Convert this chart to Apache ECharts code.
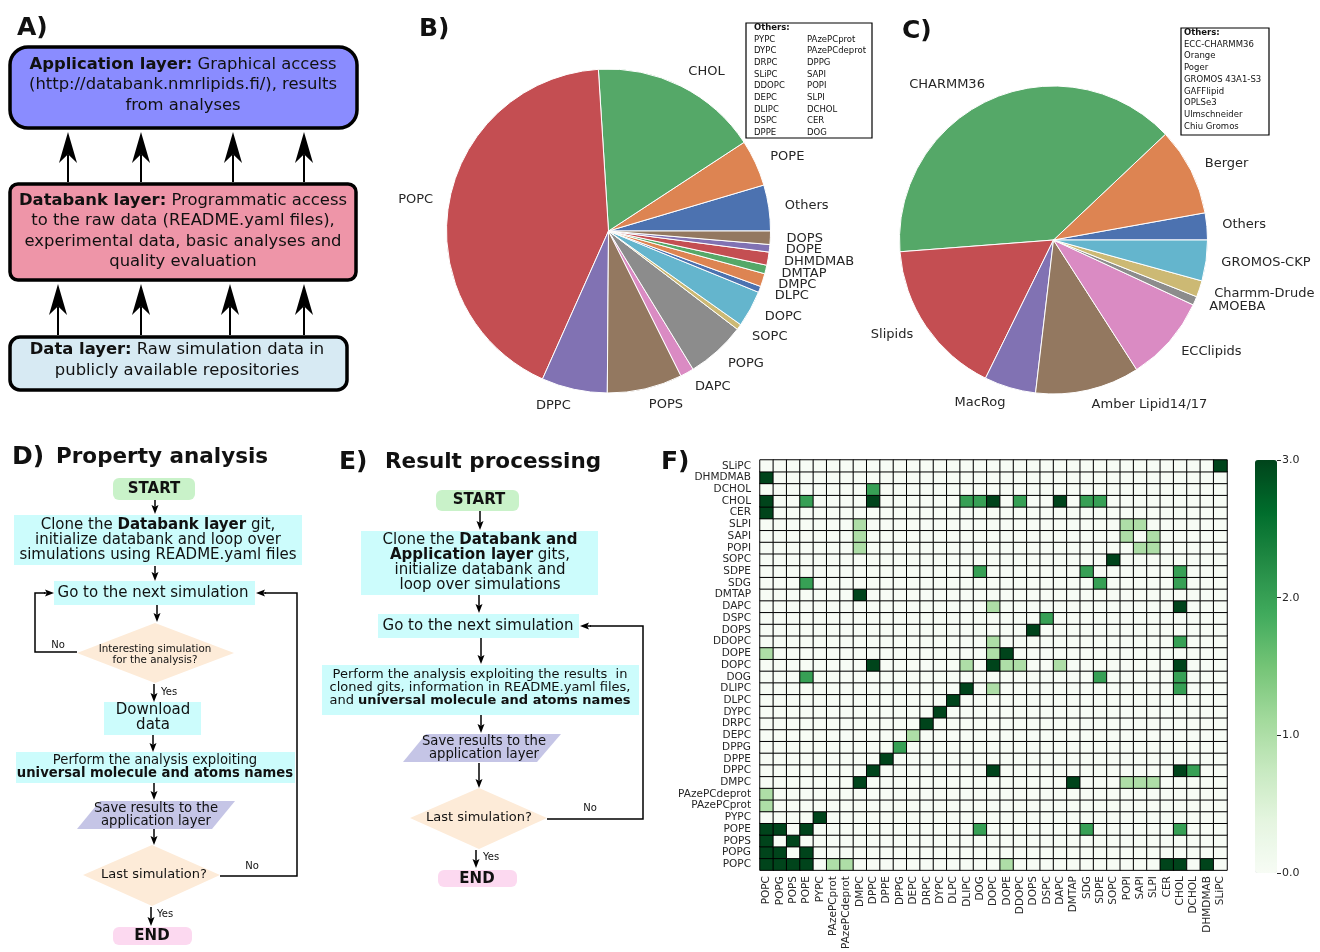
<!DOCTYPE html>
<html lang="en">
<head>
<meta charset="utf-8">
<title>NMRlipids databank overview</title>
<script src="https://cdn.jsdelivr.net/npm/echarts@6/dist/echarts.min.js"></script>
<style>
  html, body { margin: 0; padding: 0; background: #fff; }
  #main { width: 1320px; height: 952px; }
</style>
</head>
<body>
<div id="main"></div>
<script>
// ---- B) lipids in the simulations (share of all, %) ----
var lipidNames = ['Others', 'POPE', 'CHOL', 'POPC', 'DPPC', 'POPS', 'DAPC', 'POPG', 'SOPC',
                  'DOPC', 'DLPC', 'DMPC', 'DMTAP', 'DHMDMAB', 'DOPE', 'DOPS'];
var lipidShare = [4.58, 4.64, 16.78, 42.33, 6.56, 7.5, 1.36, 5.89, 0.56,
                  3.64, 0.61, 1.31, 0.86, 1.31, 0.75, 1.33];
var lipidOthersCol1 = ['PYPC', 'DYPC', 'DRPC', 'SLiPC', 'DDOPC', 'DEPC', 'DLIPC', 'DSPC', 'DPPE'];
var lipidOthersCol2 = ['PAzePCprot', 'PAzePCdeprot', 'DPPG', 'SAPI', 'POPI', 'SLPI', 'DCHOL', 'CER', 'DOG'];

// ---- C) force fields (share of all, %) ----
var ffNames = ['Others', 'Berger', 'CHARMM36', 'Slipids', 'MacRog', 'Amber Lipid14/17',
               'ECClipids', 'AMOEBA', 'Charmm-Drude', 'GROMOS-CKP'];
var ffShare = [2.83, 9.22, 39.17, 16.5, 5.42, 10.94, 9.0, 0.92, 1.72, 4.28];
var ffOthers = ['ECC-CHARMM36', 'Orange', 'Poger', 'GROMOS 43A1-S3', 'GAFFlipid', 'OPLSe3',
                'Ulmschneider', 'Chiu Gromos'];

// ---- F) lipid pairs found together (colour scale 0..3) ----
var lipidAxis = ['POPC', 'POPG', 'POPS', 'POPE', 'PYPC', 'PAzePCprot', 'PAzePCdeprot', 'DMPC',
                 'DPPC', 'DPPE', 'DPPG', 'DEPC', 'DRPC', 'DYPC', 'DLPC', 'DLIPC', 'DOG', 'DOPC',
                 'DOPE', 'DDOPC', 'DOPS', 'DSPC', 'DAPC', 'DMTAP', 'SDG', 'SDPE', 'SOPC', 'POPI',
                 'SAPI', 'SLPI', 'CER', 'CHOL', 'DCHOL', 'DHMDMAB', 'SLiPC'];
var pairs = [
  ['POPC', 'POPC', 3], ['POPG', 'POPG', 3], ['POPS', 'POPS', 3], ['POPE', 'POPE', 3],
  ['PYPC', 'PYPC', 3], ['DMPC', 'DMPC', 3], ['DPPC', 'DPPC', 3], ['DPPE', 'DPPE', 3],
  ['DPPG', 'DPPG', 2], ['DEPC', 'DEPC', 1], ['DRPC', 'DRPC', 3], ['DYPC', 'DYPC', 3],
  ['DLPC', 'DLPC', 3], ['DLIPC', 'DLIPC', 3], ['DOPC', 'DOPC', 3], ['DOPE', 'DOPE', 3],
  ['DOPS', 'DOPS', 3], ['DSPC', 'DSPC', 2], ['SOPC', 'SOPC', 3], ['SLiPC', 'SLiPC', 3],
  ['POPC', 'POPG', 3], ['POPC', 'POPS', 3], ['POPC', 'POPE', 3], ['POPC', 'PAzePCprot', 1],
  ['POPC', 'PAzePCdeprot', 1], ['POPC', 'DOPE', 1], ['POPC', 'CER', 3], ['POPC', 'CHOL', 3],
  ['POPC', 'DHMDMAB', 3], ['POPG', 'POPE', 3],
  ['POPE', 'DOG', 2], ['POPE', 'SDG', 2], ['POPE', 'CHOL', 2],
  ['DMPC', 'DMTAP', 3], ['DMPC', 'POPI', 1], ['DMPC', 'SAPI', 1], ['DMPC', 'SLPI', 1],
  ['DPPC', 'DOPC', 3], ['DPPC', 'CHOL', 3], ['DPPC', 'DCHOL', 2],
  ['DLIPC', 'DOPC', 1], ['DLIPC', 'CHOL', 2], ['DOG', 'SDPE', 2], ['DOG', 'CHOL', 2],
  ['DOPC', 'DOPE', 1], ['DOPC', 'DDOPC', 1], ['DOPC', 'DAPC', 1], ['DOPC', 'CHOL', 3],
  ['DDOPC', 'CHOL', 2], ['DAPC', 'CHOL', 3], ['SDG', 'SDPE', 2], ['SDG', 'CHOL', 2],
  ['SDPE', 'CHOL', 2], ['POPI', 'SAPI', 1], ['POPI', 'SLPI', 1], ['SAPI', 'SLPI', 1]
];
var colorbarTicks = [0, 1, 2, 3];

var F = 'DejaVu Sans';
var INK = '#111';
var deep = ['#4c72b0', '#dd8452', '#55a868', '#c44e52', '#8172b3', '#937860', '#da8bc3', '#8c8c8c', '#ccb974', '#64b5cd'];
var greens = ['#f7fcf5', '#e5f5e0', '#c7e9c0', '#a1d99b', '#74c476', '#41ab5d', '#238b45', '#006d2c', '#00441b'];

// full symmetric matrix from the pair list
var idx = {};
lipidAxis.forEach(function (n, i) { idx[n] = i; });
var mat = lipidAxis.map(function () { return lipidAxis.map(function () { return 0; }); });
pairs.forEach(function (p) {
  mat[idx[p[0]]][idx[p[1]]] = p[2];
  mat[idx[p[1]]][idx[p[0]]] = p[2];
});
var heatData = [];
for (var r = 0; r < lipidAxis.length; r++) {
  for (var c = 0; c < lipidAxis.length; c++) heatData.push([c, r, mat[r][c]]);
}

function pieData(names, vals) {
  return names.map(function (n, i) {
    return { name: n, value: vals[i], itemStyle: { color: deep[i % deep.length] } };
  });
}

// ---- drawing helpers for the diagrams ----
function T(x, y, text, size, o) {
  o = o || {};
  var lh = o.lh || Math.round(size * 1.2);
  var col = o.color || INK;
  return {
    type: 'text', x: x, y: y, silent: true, z: 10,
    style: {
      text: text, fontFamily: F, fontSize: size, fontWeight: o.bold ? 'bold' : 'normal', fill: col,
      textAlign: o.align || 'center', align: o.align || 'center',
      textVerticalAlign: 'middle', verticalAlign: 'middle', lineHeight: lh,
      rich: { b: { fontFamily: F, fontSize: size, fontWeight: 'bold', fill: col, lineHeight: lh } }
    }
  };
}
function box(x, y, w, h, fill, o) {
  o = o || {};
  return {
    type: 'rect', silent: true, z: 2,
    shape: { x: x, y: y, width: w, height: h, r: o.r || 0 },
    style: { fill: fill, stroke: o.stroke || null, lineWidth: o.lw || 0 }
  };
}
function poly(points, fill) {
  return { type: 'polygon', silent: true, z: 2, shape: { points: points }, style: { fill: fill } };
}
function arrow(x1, y1, x2, y2, hl, hw, lw, notch) {
  var dx = x2 - x1, dy = y2 - y1, L = Math.sqrt(dx * dx + dy * dy);
  var ux = dx / L, uy = dy / L, px = -uy, py = ux;
  var bx = x2 - ux * hl, by = y2 - uy * hl;
  var nx = x2 - ux * hl * notch, ny = y2 - uy * hl * notch;
  return [
    { type: 'line', silent: true, z: 5, shape: { x1: x1, y1: y1, x2: nx, y2: ny }, style: { stroke: '#000', lineWidth: lw } },
    { type: 'polygon', silent: true, z: 5, shape: { points: [[x2, y2], [bx + px * hw / 2, by + py * hw / 2], [nx, ny], [bx - px * hw / 2, by - py * hw / 2]] }, style: { fill: '#000' } }
  ];
}
function farrow(x1, y1, x2, y2) { return arrow(x1, y1, x2, y2, 9, 7, 1.5, 0.8); }
function pline(points) {
  return { type: 'polyline', silent: true, z: 5, shape: { points: points }, style: { stroke: '#000', lineWidth: 1.5, fill: null } };
}

var G = [];
function add(e) { G = G.concat(e); }

// A) layers
add(T(17, 28, 'A)', 25, { bold: true, align: 'left' }));
add(box(10, 47, 347, 81, '#8a8cff', { r: 18, stroke: '#000', lw: 3.5 }));
add(T(183, 85, '{b|Application layer:} Graphical access\n(http://databank.nmrlipids.fi/), results\nfrom analyses', 16.4, { lh: 20.5 }));
add(box(10, 184, 346, 96, '#ee95a8', { r: 8, stroke: '#000', lw: 3.5 }));
add(T(183, 231, '{b|Databank layer:} Programmatic access\nto the raw data (README.yaml files),\nexperimental data, basic analyses and\nquality evaluation', 16.4, { lh: 20.5 }));
add(box(10, 337, 337, 53, '#d7eaf3', { r: 10, stroke: '#000', lw: 3.5 }));
add(T(177, 360, '{b|Data layer:} Raw simulation data in\npublicly available repositories', 16.4, { lh: 20.5 }));
[68, 141, 233, 304].forEach(function (x) { add(arrow(x, 182, x, 132, 31, 18, 2, 0.72)); });
[58, 141, 230, 304].forEach(function (x) { add(arrow(x, 335, x, 284, 31, 18, 2, 0.72)); });

// B) / C) panel letters and "Others" boxes
add(T(419, 29, 'B)', 25, { bold: true, align: 'left' }));
add(T(902, 31, 'C)', 25, { bold: true, align: 'left' }));
add(box(746, 23, 126, 115, '#fff', { stroke: '#000', lw: 1.2 }));
add(T(754, 28, 'Others:', 8.5, { bold: true, align: 'left' }));
lipidOthersCol1.forEach(function (n, i) { add(T(754, 39.5 + i * 11.65, n, 8.5, { align: 'left' })); });
lipidOthersCol2.forEach(function (n, i) { add(T(807, 39.5 + i * 11.65, n, 8.5, { align: 'left' })); });
add(box(1181, 28, 88, 107, '#fff', { stroke: '#000', lw: 1.2 }));
add(T(1184, 33, 'Others:', 8.5, { bold: true, align: 'left' }));
ffOthers.forEach(function (n, i) { add(T(1184, 44.5 + i * 11.75, n, 8.5, { align: 'left' })); });

// D) property analysis flow
add(T(12, 457, 'D)', 25, { bold: true, align: 'left' }));
add(T(56, 457, 'Property analysis', 21.5, { bold: true, align: 'left' }));
add(box(113, 478, 82, 22, '#c9f2c9', { r: 6 }));
add(T(154, 489, 'START', 15, { bold: true }));
add(farrow(155, 500, 155, 514));
add(box(14, 515, 288, 50, '#ccfcfc'));
add(T(158, 540, 'Clone the {b|Databank layer} git,\ninitialize databank and loop over\nsimulations using README.yaml files', 15, { lh: 15 }));
add(farrow(155, 566, 155, 581));
add(box(54, 581, 201, 24, '#ccfcfc'));
add(T(153, 593, 'Go to the next simulation', 15));
add(farrow(157, 605, 157, 622));
add(poly([[155, 623], [234, 653], [155, 683], [77, 653]], '#fdebd8'));
add(T(155, 655, 'Interesting simulation\nfor the analysis?', 10.3, { lh: 10.5 }));
add(pline([[77, 652], [35, 652], [35, 593], [45, 593]]));
add(farrow(44, 593, 54, 593));
add(T(58, 645, 'No', 10));
add(farrow(154, 684, 154, 702));
add(T(161, 692, 'Yes', 10, { align: 'left' }));
add(box(104, 702, 97, 33, '#ccfcfc'));
add(T(153, 718, 'Download\ndata', 15, { lh: 15 }));
add(farrow(153, 735, 153, 752));
add(box(16, 752, 279, 31, '#ccfcfc'));
add(T(155, 767, 'Perform the analysis exploiting\n{b|universal molecule and atoms names}', 13.2, { lh: 13 }));
add(farrow(154, 783, 154, 800));
add(poly([[100, 801], [235, 801], [212, 829], [77, 829]], '#c5c5e6'));
add(T(156, 815, 'Save results to the\napplication layer', 13.2, { lh: 13 }));
add(farrow(154, 829, 154, 845));
add(poly([[152, 845], [220, 875], [152, 906], [83, 875]], '#fdebd8'));
add(T(154, 875, 'Last simulation?', 13));
add(pline([[220, 876], [297, 876], [297, 593], [265, 593]]));
add(farrow(266, 593, 256, 593));
add(T(252, 866, 'No', 10));
add(farrow(151, 907, 151, 926));
add(T(157, 914, 'Yes', 10, { align: 'left' }));
add(box(113, 927, 79, 18, '#fcd9f0', { r: 6 }));
add(T(152, 936, 'END', 15, { bold: true }));

// E) result processing flow
add(T(339, 462, 'E)', 25, { bold: true, align: 'left' }));
add(T(385, 462, 'Result processing', 21.5, { bold: true, align: 'left' }));
add(box(436, 490, 83, 21, '#c9f2c9', { r: 6 }));
add(T(479, 500, 'START', 15, { bold: true }));
add(farrow(480, 511, 480, 530));
add(box(361, 531, 237, 64, '#ccfcfc'));
add(T(480, 563, 'Clone the {b|Databank and}\n{b|Application layer} gits,\ninitialize databank and\nloop over simulations', 15, { lh: 15 }));
add(farrow(479, 595, 479, 613));
add(box(378, 614, 201, 24, '#ccfcfc'));
add(T(478, 626, 'Go to the next simulation', 15));
add(farrow(481, 638, 481, 664));
add(box(322, 665, 317, 50, '#ccfcfc'));
add(T(480, 688, 'Perform the analysis exploiting the results  in\ncloned gits, information in README.yaml files,\nand {b|universal molecule and atoms names}', 13, { lh: 13 }));
add(farrow(481, 715, 481, 733));
add(poly([[426, 734], [561, 734], [537, 762], [403, 762]], '#c5c5e6'));
add(T(484, 748, 'Save results to the\napplication layer', 13.2, { lh: 13 }));
add(farrow(479, 763, 479, 788));
add(poly([[479, 788], [547, 818], [479, 849], [410, 818]], '#fdebd8'));
add(T(479, 818, 'Last simulation?', 13));
add(pline([[547, 819], [643, 819], [643, 626], [590, 626]]));
add(farrow(591, 626, 580, 626));
add(T(590, 808, 'No', 10));
add(farrow(476, 850, 476, 868));
add(T(483, 857, 'Yes', 10, { align: 'left' }));
add(box(438, 870, 79, 17, '#fcd9f0', { r: 6 }));
add(T(477, 879, 'END', 15, { bold: true }));

// F) letter
add(T(661, 462, 'F)', 25, { bold: true, align: 'left' }));

var pieLabel = { show: true, position: 'outside', formatter: '{b}', fontFamily: F, fontSize: 13, color: '#262626', distanceToLabelLine: 0 };

var chart = echarts.init(document.getElementById('main'));
var option = {
  animation: false,
  backgroundColor: '#fff',
  textStyle: { fontFamily: F },
  grid: [
    { left: 760, top: 460, width: 467, height: 413 },
    { left: 1255, top: 460, width: 22, height: 413 }
  ],
  xAxis: [
    { type: 'category', gridIndex: 0, data: lipidAxis, axisLine: { show: false }, axisTick: { show: false },
      axisLabel: { interval: 0, rotate: 90, fontSize: 10.5, color: '#262626', margin: 6, fontFamily: F },
      splitArea: { show: false } },
    { type: 'value', gridIndex: 1, show: false, min: 0, max: 1 }
  ],
  yAxis: [
    { type: 'category', gridIndex: 0, data: lipidAxis, axisLine: { show: false }, axisTick: { show: false },
      axisLabel: { interval: 0, fontSize: 10.5, color: '#262626', margin: 9, fontFamily: F } },
    { type: 'value', gridIndex: 1, min: colorbarTicks[0], max: colorbarTicks[colorbarTicks.length - 1], interval: 1,
      position: 'right', axisLine: { show: false, onZero: false }, splitLine: { show: false },
      axisTick: { show: true, length: 4, lineStyle: { color: '#262626', width: 1 } },
      axisLabel: { fontSize: 11, color: '#262626', margin: 5, fontFamily: F, formatter: function (v) { return v.toFixed(1); } } }
  ],
  visualMap: {
    type: 'continuous', seriesIndex: 2, min: 0, max: 3, calculable: false, show: true,
    left: 1255, top: 460, itemWidth: 22, itemHeight: 413, padding: 0, hoverLink: false,
    inRange: { color: greens }
  },
  series: [
    {
      type: 'pie', center: [608.5, 231], radius: 162, startAngle: 0, clockwise: false,
      avoidLabelOverlap: false, silent: true, labelLayout: { hideOverlap: false },
      itemStyle: { borderColor: '#fff', borderWidth: 1 },
      label: pieLabel, labelLine: { show: false, length: 16.2, length2: 0 },
      data: pieData(lipidNames, lipidShare)
    },
    {
      type: 'pie', center: [1053.5, 240], radius: 154, startAngle: 0, clockwise: false,
      avoidLabelOverlap: false, silent: true, labelLayout: { hideOverlap: false },
      itemStyle: { borderColor: '#fff', borderWidth: 1 },
      label: pieLabel, labelLine: { show: false, length: 15.4, length2: 0 },
      data: pieData(ffNames, ffShare)
    },
    {
      type: 'heatmap', xAxisIndex: 0, yAxisIndex: 0, data: heatData, silent: true,
      itemStyle: { borderColor: '#000', borderWidth: 1 }
    }
  ],
  graphic: { elements: G }
};
chart.setOption(option);
</script>
</body>
</html>
